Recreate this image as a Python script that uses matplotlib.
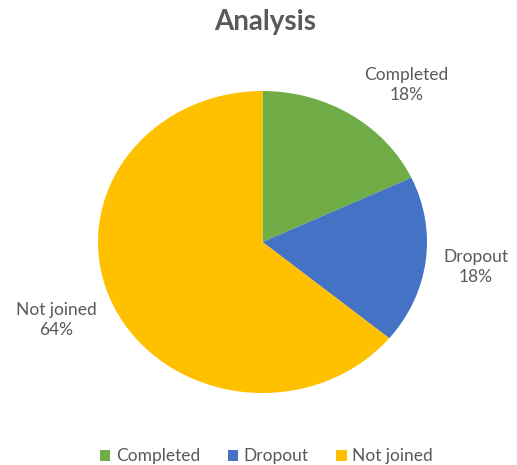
import matplotlib.pyplot as plt
from matplotlib.patches import Patch

labels = ["Completed", "Dropout", "Not joined"]
shares = [18, 18, 64]
colors = ["#70AD47", "#4472C4", "#FFC000"]
# where each category label sits (axes data units)
label_pos = [(0.875, 1.04), (1.295, -0.166), (-1.252, -0.517)]

plt.rcParams['font.family'] = ['Lato', 'DejaVu Sans']
txt = "#595959"

fig = plt.figure(figsize=(5.17, 4.65), dpi=100)
ax = fig.add_axes([98/517, 72/465, 329/517, 302/465])

ax.pie(shares, colors=colors, startangle=90, counterclock=False, radius=1,
       wedgeprops=dict(linewidth=0))
ax.set_aspect('auto')
ax.set_xlim(-1, 1)
ax.set_ylim(-1, 1)

for name, val, (x, y) in zip(labels, shares, label_pos):
    ax.text(x, y, f"{name}\n{val}%", ha='center', va='center', fontsize=12.5,
            color=txt, linespacing=1.35, clip_on=False)

fig.text(0.513, 0.953, "Analysis", ha='center', va='center', fontsize=20,
         fontweight='bold', color=txt)

handles = [Patch(facecolor=c, edgecolor='none') for c in colors]
fig.legend(handles, labels, loc='center', bbox_to_anchor=(0.515, 0.019), ncol=3,
           frameon=False, fontsize=12.5, handlelength=0.6, handleheight=0.6,
           handletextpad=0.3, columnspacing=1.6, labelcolor=txt,
           borderpad=0, borderaxespad=0)

fig.savefig("out.png", dpi=100)
